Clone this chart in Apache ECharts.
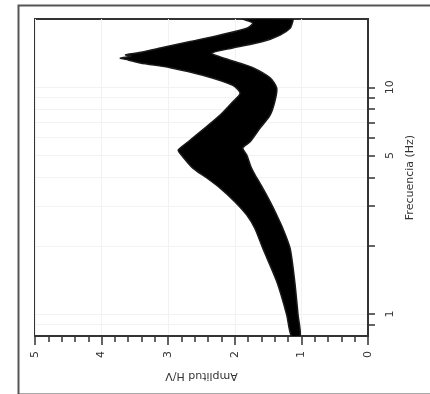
<!DOCTYPE html>
<html>
<head>
<meta charset="utf-8">
<script src="https://cdn.jsdelivr.net/npm/echarts@6/dist/echarts.min.js"></script>
<style>
html,body{margin:0;padding:0;background:#fff;}
#chart{width:430px;height:394px;}
</style>
</head>
<body>
<div id="chart"></div>
<script>
// Upper envelope of the H/V curves (highest amplitude at each frequency)
var freqMax = [0.8, 0.99, 1.39, 1.95, 2.39, 2.73, 3.13, 3.59, 3.98, 4.40, 5.02, 5.28, 5.75, 6.61, 7.54, 8.63, 9.42, 10.2, 11.3, 12.2, 12.8, 13.2, 13.45, 13.7, 13.9, 14.15, 14.9, 15.9, 17.0, 18.2, 19.2, 20];
var ampMax  = [1.15, 1.22, 1.37, 1.58, 1.70, 1.82, 2.00, 2.22, 2.42, 2.63, 2.80, 2.85, 2.70, 2.45, 2.22, 2.03, 1.92, 2.03, 2.48, 2.97, 3.42, 3.60, 3.72, 3.56, 3.64, 3.47, 3.12, 2.67, 2.22, 1.82, 1.73, 1.88];
// Lower envelope of the H/V curves (lowest amplitude at each frequency)
var freqMin = [0.8, 0.99, 1.39, 1.95, 2.39, 2.73, 3.13, 3.59, 3.98, 4.40, 5.02, 5.40, 5.75, 6.61, 7.54, 8.63, 9.9, 11.0, 12.2, 12.9, 13.6, 14.15, 14.9, 15.9, 17.0, 18.2, 19.5, 20];
var ampMin  = [1.02, 1.05, 1.10, 1.17, 1.28, 1.37, 1.47, 1.58, 1.67, 1.75, 1.82, 1.88, 1.77, 1.62, 1.47, 1.40, 1.37, 1.47, 1.73, 1.97, 2.22, 2.35, 2.03, 1.58, 1.32, 1.17, 1.13, 1.13];
// Axis ticks and labels
var ampTicks = [0, 1, 2, 3, 4, 5];
var freqTickValues = [0.9, 1, 2, 3, 4, 5, 6, 7, 8, 9, 10];
var freqLabelValues = [1, 5, 10];

var chart = echarts.init(document.getElementById('chart'), null, {renderer: 'canvas'});
var font = 'DejaVu Sans';
var option = {
  backgroundColor: '#fff',
  animation: false,
  graphic: [{
    type: 'rect', left: 16, top: 3, silent: true,
    shape: {width: 440, height: 389},
    style: {fill: 'none', stroke: '#555', lineWidth: 2}
  }],
  grid: {left: 35, right: 62, top: 19, bottom: 58, show: true, borderColor: '#333', borderWidth: 2},
  xAxis: {
    type: 'value', min: 0, max: 5, interval: 1, inverse: true, position: 'bottom',
    name: 'Amplitud H/V', nameLocation: 'middle', nameRotate: 180, nameGap: 34,
    nameTextStyle: {fontFamily: font, fontSize: 11, color: '#333'},
    axisLine: {show: true, lineStyle: {color: '#333', width: 2}},
    axisTick: {show: true, length: 9, lineStyle: {color: '#333', width: 1.5}},
    minorTick: {show: true, splitNumber: 5, length: 6, lineStyle: {color: '#333', width: 1.5}},
    axisLabel: {rotate: 90, margin: 15, fontFamily: font, fontSize: 11, color: '#333',
      formatter: function (v) { return ampTicks.indexOf(v) >= 0 ? String(v) : ''; }},
    splitLine: {show: true, lineStyle: {color: '#f2f2f2', width: 1}}
  },
  yAxis: {
    type: 'log', logBase: 10, min: 0.8, max: 20, position: 'right',
    name: 'Frecuencia (Hz)', nameLocation: 'middle', nameRotate: 90, nameGap: 37,
    nameTextStyle: {fontFamily: font, fontSize: 11, color: '#333'},
    axisLine: {show: true, lineStyle: {color: '#333', width: 2}},
    axisTick: {show: true, length: 7, customValues: freqTickValues, lineStyle: {color: '#333', width: 1.5}},
    axisLabel: {rotate: 90, margin: 17, fontFamily: font, fontSize: 11, color: '#333', customValues: freqLabelValues},
    splitLine: {show: true, lineStyle: {color: '#f2f2f2', width: 1}}
  },
  series: [{
    type: 'custom',
    clip: true,
    data: [[ampMax[0], freqMax[0]]],
    encode: {x: 0, y: 1},
    renderItem: function (params, api) {
      var pts = [];
      for (var i = 0; i < freqMax.length; i++) pts.push(api.coord([ampMax[i], freqMax[i]]));
      for (var j = freqMin.length - 1; j >= 0; j--) pts.push(api.coord([ampMin[j], freqMin[j]]));
      return {type: 'polygon', shape: {points: pts, smooth: 0.25}, style: {fill: '#000', stroke: '#1a1a1a', lineWidth: 1.5}};
    }
  }]
};
chart.setOption(option);
</script>
</body>
</html>
